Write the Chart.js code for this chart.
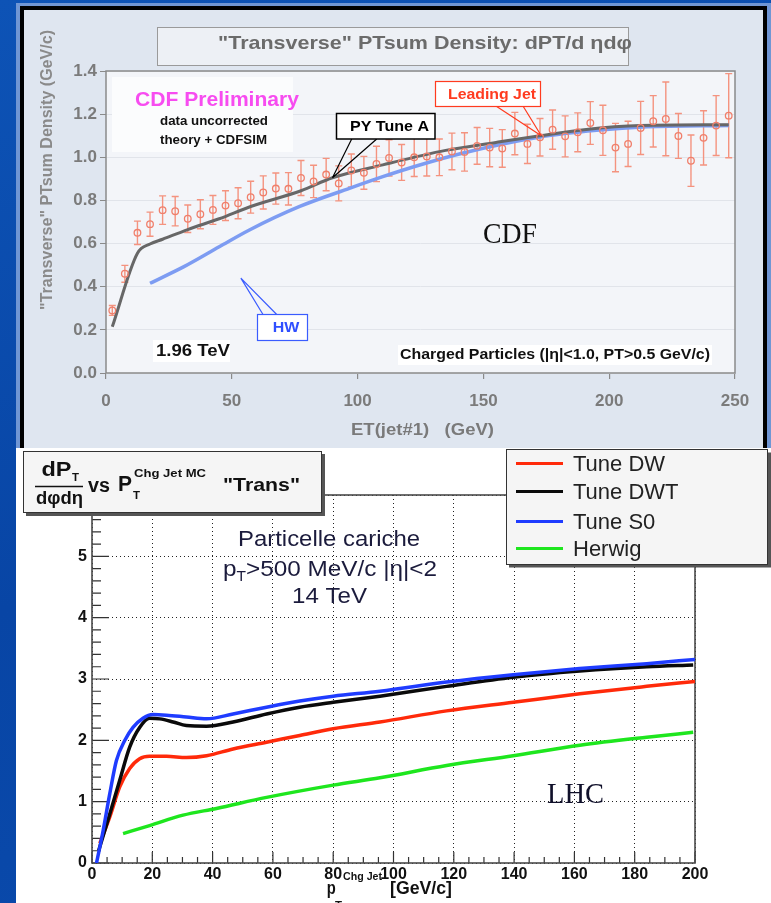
<!DOCTYPE html>
<html>
<head>
<meta charset="utf-8">
<script src="https://cdn.jsdelivr.net/npm/chart.js@4.4.1/dist/chart.umd.min.js"></script>
<style>
  html, body { margin: 0; padding: 0; }
  body {
    width: 771px; height: 903px; position: relative; overflow: hidden;
    background: linear-gradient(165deg, #0d53b6 0%, #0845a5 55%, #0a4bad 100%);
  }
  #cdfFrame { position: absolute; left: 16px; top: 3px; width: 755px; height: 445px; background: #7096d4; }
  #cdfPanel {
    position: absolute; left: 20px; top: 6px; width: 747px; height: 442px; box-sizing: border-box;
    border: 4px solid #000; border-bottom: none; background: #dfe6f0;
  }
  #lhcPanel { position: absolute; left: 16px; top: 448px; width: 755px; height: 455px; background: #fff; }
  canvas { position: absolute; left: 0; }
  #cdfChart { top: 0; }
  #lhcChart { top: 448px; }
</style>
</head>
<body>
<div id="cdfFrame"></div>
<div id="cdfPanel"></div>
<div id="lhcPanel"></div>
<canvas id="cdfChart" width="771" height="448"></canvas>
<canvas id="lhcChart" width="771" height="455"></canvas>
<script>
// ---- CDF Run II: "transverse" PTsum density vs ET(jet#1) ----
const cdfEt = [2.5, 7.5, 12.5, 17.5, 22.5, 27.5, 32.5, 37.5, 42.5, 47.5,
  52.5, 57.5, 62.5, 67.5, 72.5, 77.5, 82.5, 87.5, 92.5, 97.5,
  102.5, 107.5, 112.5, 117.5, 122.5, 127.5, 132.5, 137.5, 142.5, 147.5,
  152.5, 157.5, 162.5, 167.5, 172.5, 177.5, 182.5, 187.5, 192.5, 197.5,
  202.5, 207.5, 212.5, 217.5, 222.5, 227.5, 232.5, 237.5, 242.5, 247.5];
const cdfDensity = [0.29, 0.46, 0.65, 0.69, 0.755, 0.75, 0.715, 0.736, 0.756, 0.776,
  0.787, 0.815, 0.837, 0.855, 0.854, 0.904, 0.888, 0.92, 0.879, 0.939,
  0.928, 0.969, 0.997, 0.976, 1.0, 1.004, 1.0, 1.027, 1.025, 1.053,
  1.045, 1.041, 1.11, 1.062, 1.093, 1.128, 1.097, 1.116, 1.159, 1.125,
  1.045, 1.062, 1.136, 1.167, 1.178, 1.099, 0.984, 1.09, 1.147, 1.193];
const cdfError = [0.023, 0.039, 0.054, 0.056, 0.066, 0.068, 0.064, 0.067, 0.067, 0.069,
  0.072, 0.074, 0.077, 0.072, 0.075, 0.081, 0.075, 0.075, 0.081, 0.076,
  0.076, 0.082, 0.084, 0.083, 0.089, 0.091, 0.085, 0.085, 0.089, 0.085,
  0.089, 0.087, 0.098, 0.091, 0.087, 0.091, 0.095, 0.09, 0.099, 0.116,
  0.112, 0.105, 0.123, 0.119, 0.171, 0.104, 0.119, 0.126, 0.139, 0.195];

const pyTuneAEt = [2.5, 12.5, 17.5, 22.5, 32.5, 45, 57.5, 77.5, 90, 110, 135, 155, 172.5, 190, 212.5, 247.5];
const pyTuneADensity = [0.214, 0.555, 0.598, 0.62, 0.665, 0.715, 0.772, 0.845, 0.905, 0.965, 1.032, 1.069, 1.10, 1.128, 1.147, 1.151];

const hwCdfEt = [17.5, 31, 45, 57, 77, 97, 110, 122, 142, 172.5, 195, 215, 247.5];
const hwCdfDensity = [0.416, 0.493, 0.585, 0.663, 0.772, 0.857, 0.91, 0.955, 1.02, 1.094, 1.125, 1.141, 1.147];

// ---- LHC 14 TeV predictions: dPT/dphi deta vs pT(chg jet) ----
const lhcPtDW = [2.6, 5.9, 9.2, 12.5, 15.8, 19.1, 24.7, 31.3, 38, 46.8, 57.9, 68.9, 80, 95.5, 117.6, 139.7, 161.8, 184, 200];
const lhcDW = [0.32, 0.75, 1.24, 1.54, 1.70, 1.74, 1.74, 1.72, 1.75, 1.86, 1.97, 2.08, 2.19, 2.30, 2.48, 2.62, 2.76, 2.88, 2.96];

const lhcPtDWT = [2.2, 5.9, 9.2, 12.5, 15.8, 19.1, 22.5, 26.9, 31.3, 38, 46.8, 57.9, 68.9, 80, 95.5, 117.6, 139.7, 161.8, 184, 199.4];
const lhcDWT = [0.2, 0.8, 1.35, 1.89, 2.21, 2.36, 2.35, 2.30, 2.24, 2.23, 2.30, 2.43, 2.54, 2.62, 2.72, 2.88, 3.03, 3.13, 3.20, 3.23];

const lhcPtS0 = [1.5, 3.7, 5.9, 8.1, 10.9, 13.6, 16.9, 20.2, 24.7, 31.3, 38, 46.8, 57.9, 68.9, 80, 95.5, 117.6, 139.7, 161.8, 184, 200];
const lhcS0 = [0, 0.53, 1.13, 1.67, 2.0, 2.21, 2.36, 2.42, 2.41, 2.38, 2.35, 2.43, 2.54, 2.64, 2.72, 2.80, 2.95, 3.07, 3.17, 3.25, 3.32];

const lhcPtHerwig = [10.3, 19.1, 30.2, 41.3, 57.9, 80, 95.5, 117.6, 139.7, 161.8, 184, 199.4];
const lhcHerwig = [0.48, 0.61, 0.78, 0.89, 1.07, 1.27, 1.39, 1.59, 1.75, 1.92, 2.05, 2.13];

const lhcLabels = ['Tune DW', 'Tune DWT', 'Tune S0', 'Herwig'];
const lhcColors = ['#ff2a0a', '#0a0a0a', '#1f3cff', '#1ee61e'];

const SANS = '"Liberation Sans", Arial, Helvetica, sans-serif';
const SERIF = '"Liberation Serif", "Times New Roman", serif';

function pts(xs, ys) {
  return xs.map((x, i) => ({ x: x, y: ys[i] }));
}

// text squeezed or stretched to a given width; x = left edge, y = middle
function fitText(ctx, text, x, y, width, font, color) {
  ctx.save();
  ctx.font = font;
  ctx.fillStyle = color;
  ctx.textAlign = 'left';
  ctx.textBaseline = 'middle';
  const w = ctx.measureText(text).width;
  ctx.translate(x, y);
  ctx.scale(width / w, 1);
  ctx.fillText(text, 0, 0);
  ctx.restore();
}

// several runs (sub/superscripts) laid out on one line, then fitted to width
function runText(ctx, runs, x, y, width, color) {
  ctx.save();
  ctx.textAlign = 'left';
  ctx.textBaseline = 'alphabetic';
  let total = 0;
  runs.forEach(r => { ctx.font = r.font; r.w = ctx.measureText(r.t).width; total += r.w; });
  ctx.translate(x, y);
  ctx.scale(width / total, 1);
  ctx.fillStyle = color;
  let cx = 0;
  runs.forEach(r => { ctx.font = r.font; ctx.fillText(r.t, cx, r.dy || 0); cx += r.w; });
  ctx.restore();
}

// labelled box with two pointer strokes running to a spot on the plot
function callout(ctx, box, color, from, target) {
  ctx.save();
  ctx.strokeStyle = color;
  ctx.lineWidth = 1.2;
  ctx.beginPath();
  from.forEach(p => { ctx.moveTo(p[0], p[1]); ctx.lineTo(target.x, target.y); });
  ctx.stroke();
  ctx.fillStyle = '#fff';
  ctx.fillRect(box[0], box[1], box[2], box[3]);
  ctx.lineWidth = box[4] || 1.2;
  ctx.strokeRect(box[0], box[1], box[2], box[3]);
  ctx.restore();
}

const cdfDecor = {
  id: 'cdfDecor',
  beforeDraw(chart) {
    const { ctx, chartArea: a } = chart;
    ctx.save();
    ctx.fillStyle = '#f3f5f9';
    ctx.fillRect(a.left, a.top, a.right - a.left, a.bottom - a.top);
    // title box
    ctx.fillStyle = '#edf0f5';
    ctx.fillRect(157, 27, 471, 38);
    ctx.strokeStyle = '#9a9a9a';
    ctx.lineWidth = 1;
    ctx.strokeRect(157.5, 27.5, 471, 38);
    ctx.restore();
    fitText(ctx, '"Transverse" PTsum Density: dPT/d \u03b7d\u03c6', 218, 44, 414, 'bold 19px ' + SANS, '#6b6b6b');
    // axis titles
    ctx.save();
    ctx.translate(48, 170);
    ctx.rotate(-Math.PI / 2);
    fitText(ctx, '"Transverse" PTsum Density (GeV/c)', -140, 0, 280, 'bold 16px ' + SANS, '#8a8a8a');
    ctx.restore();
    fitText(ctx, 'ET(jet#1)   (GeV)', 351, 430, 143, 'bold 17px ' + SANS, '#7a7a7a');
  },
  beforeDatasetsDraw(chart) {
    const { ctx } = chart;
    const xs = chart.scales.x, ys = chart.scales.y;
    ctx.save();
    ctx.fillStyle = '#fbfcfd';
    ctx.fillRect(112, 77, 181, 75);
    ctx.fillStyle = '#ffffff';
    ctx.fillRect(153, 340, 77, 22);
    ctx.fillRect(398, 345, 314, 20);
    // error bars
    ctx.strokeStyle = '#f4937f';
    ctx.lineWidth = 1.4;
    ctx.beginPath();
    cdfEt.forEach((e, i) => {
      const px = xs.getPixelForValue(e);
      const lo = ys.getPixelForValue(cdfDensity[i] - cdfError[i]);
      const hi = ys.getPixelForValue(cdfDensity[i] + cdfError[i]);
      ctx.moveTo(px, lo); ctx.lineTo(px, hi);
      ctx.moveTo(px - 3.5, lo); ctx.lineTo(px + 3.5, lo);
      ctx.moveTo(px - 3.5, hi); ctx.lineTo(px + 3.5, hi);
    });
    ctx.stroke();
    ctx.restore();
  },
  afterDatasetsDraw(chart) {
    const { ctx, chartArea: a } = chart;
    const xs = chart.scales.x, ys = chart.scales.y;
    ctx.save();
    ctx.strokeStyle = '#8a8a8a';
    ctx.lineWidth = 1.5;
    ctx.strokeRect(a.left, a.top, a.right - a.left, a.bottom - a.top);
    ctx.restore();

    fitText(ctx, 'CDF Preliminary', 135, 100, 164, 'bold 20px ' + SANS, '#f74cf0');
    fitText(ctx, 'data uncorrected', 160, 122, 108, 'bold 12px ' + SANS, '#111');
    fitText(ctx, 'theory + CDFSIM', 160, 141, 107, 'bold 12px ' + SANS, '#111');
    fitText(ctx, '1.96 TeV', 156, 351, 74, 'bold 17px ' + SANS, '#111');
    fitText(ctx, 'Charged Particles (|\u03b7|<1.0, PT>0.5 GeV/c)', 400, 355, 310, 'bold 15px ' + SANS, '#111');
    fitText(ctx, 'CDF', 483, 235, 54, '30px ' + SERIF, '#111');

    const pyTip = { x: xs.getPixelForValue(90), y: ys.getPixelForValue(0.905) };
    callout(ctx, [336.5, 113.5, 98.5, 25.5, 1.5], '#000', [[351.7, 139], [376.7, 139]], pyTip);
    fitText(ctx, 'PY Tune A', 350, 126.5, 79, 'bold 15px ' + SANS, '#000');

    const ljTip = { x: xs.getPixelForValue(173), y: ys.getPixelForValue(1.10) };
    callout(ctx, [435.5, 81.5, 105, 25], '#ff3b1f', [[496.7, 106.5], [523.3, 106.5]], ljTip);
    fitText(ctx, 'Leading Jet', 448, 94.5, 88, 'bold 15px ' + SANS, '#ff3b1f');

    const hwTip = { x: xs.getPixelForValue(53.6), y: ys.getPixelForValue(0.44) };
    callout(ctx, [257.5, 314.5, 50, 26], '#3a5cff', [[263, 314.5], [276.7, 314.5]], hwTip);
    fitText(ctx, 'HW', 272.7, 327.5, 26.6, 'bold 15px ' + SANS, '#2f4fff');
  }
};

new Chart(document.getElementById('cdfChart'), {
  type: 'line',
  data: {
    datasets: [
      {
        label: 'PY Tune A', data: pts(pyTuneAEt, pyTuneADensity),
        borderColor: '#676767', borderWidth: 3, pointRadius: 0,
        cubicInterpolationMode: 'monotone', order: 2
      },
      {
        label: 'HW', data: pts(hwCdfEt, hwCdfDensity),
        borderColor: '#7d9cf2', borderWidth: 3.5, pointRadius: 0,
        cubicInterpolationMode: 'monotone', order: 3
      },
      {
        type: 'scatter', label: 'CDF data', data: pts(cdfEt, cdfDensity),
        pointRadius: 3.3, pointBorderWidth: 1.3, pointBorderColor: '#f07f6b',
        pointBackgroundColor: 'rgba(0,0,0,0)', order: 1
      }
    ]
  },
  options: {
    responsive: false,
    animation: false,
    events: [],
    layout: { padding: { left: 0, right: 36, top: 71, bottom: 0 } },
    plugins: { legend: { display: false }, tooltip: { enabled: false } },
    scales: {
      x: {
        type: 'linear', min: 0, max: 250,
        afterFit: s => { s.height = 75; },
        ticks: { stepSize: 50, padding: 12, color: '#7b7b7b', font: { family: SANS, size: 17, weight: 'bold' } },
        grid: { color: 'rgba(0,0,0,0)', tickColor: '#8a8a8a', tickLength: 6, lineWidth: 1.2 },
        border: { display: false }
      },
      y: {
        min: 0, max: 1.4,
        afterFit: s => { s.width = 106; },
        ticks: {
          stepSize: 0.2, padding: 3, color: '#7b7b7b',
          font: { family: SANS, size: 17, weight: 'bold' },
          callback: v => v.toFixed(1)
        },
        grid: { color: '#e1e4ea', tickColor: '#8a8a8a', tickLength: 6 },
        border: { display: false }
      }
    }
  },
  plugins: [cdfDecor]
});

const lhcDecor = {
  id: 'lhcDecor',
  beforeDatasetsDraw(chart) {
    const { ctx, chartArea: a } = chart;
    const xs = chart.scales.x, ys = chart.scales.y;
    ctx.save();
    ctx.strokeStyle = '#333';
    ctx.lineWidth = 1.2;
    ctx.beginPath();
    for (let k = 0; k <= 30; k++) {
      const py = ys.getPixelForValue(k * 0.2);
      const len = k % 5 === 0 ? 17 : 9;
      ctx.moveTo(a.left, py); ctx.lineTo(a.left + len, py);
    }
    for (let k = 0; k <= 40; k++) {
      const px = xs.getPixelForValue(k * 5);
      const len = k % 4 === 0 ? 11 : 6;
      ctx.moveTo(px, a.bottom); ctx.lineTo(px, a.bottom - len);
    }
    ctx.stroke();
    ctx.strokeStyle = '#4a4a4a';
    ctx.lineWidth = 1.6;
    ctx.strokeRect(a.left, a.top, a.right - a.left, a.bottom - a.top);
    ctx.restore();
  },
  afterDatasetsDraw(chart) {
    const { ctx } = chart;
    const ink = '#1b1b3c';
    fitText(ctx, 'Particelle cariche', 238, 92, 182, '22px ' + SANS, ink);
    runText(ctx, [
      { t: 'p', font: '22px ' + SANS },
      { t: 'T', font: '14px ' + SANS, dy: 5 },
      { t: '>500 MeV/c |\u03b7|<2', font: '22px ' + SANS }
    ], 223, 128, 214, ink);
    fitText(ctx, '14 TeV', 292, 149, 75, '22px ' + SANS, ink);
    fitText(ctx, 'LHC', 547, 347, 57, '30px ' + SERIF, '#10102a');

    // x axis title
    runText(ctx, [{ t: 'p', font: 'bold 19px ' + SANS }], 326.7, 446, 9, '#111');
    runText(ctx, [{ t: 'Chg Jet', font: 'bold 11px ' + SANS }], 343, 432, 39, '#111');
    runText(ctx, [{ t: 'T', font: 'bold 11px ' + SANS }], 335, 461, 7, '#111');
    runText(ctx, [{ t: '[GeV/c]', font: 'bold 18px ' + SANS }], 390, 446, 62, '#111');
  },
  afterDraw(chart) {
    const { ctx } = chart;
    ctx.save();
    // title box
    ctx.fillStyle = '#555';
    ctx.fillRect(26, 6, 299, 62);
    ctx.fillStyle = '#f5f5f5';
    ctx.fillRect(23, 3, 299, 62);
    ctx.strokeStyle = '#333';
    ctx.lineWidth = 1;
    ctx.strokeRect(23.5, 3.5, 298, 61);
    ctx.strokeStyle = '#111';
    ctx.lineWidth = 1.5;
    ctx.beginPath(); ctx.moveTo(35, 38.5); ctx.lineTo(83, 38.5); ctx.stroke();
    ctx.restore();
    fitText(ctx, 'dP', 41.5, 22, 30, 'bold 20px ' + SANS, '#111');
    fitText(ctx, 'T', 72, 30, 7, 'bold 11px ' + SANS, '#111');
    fitText(ctx, 'd\u03c6d\u03b7', 36, 51, 47, 'bold 19px ' + SANS, '#111');
    fitText(ctx, 'vs', 88, 38, 22, 'bold 20px ' + SANS, '#111');
    fitText(ctx, 'P', 118, 37, 14, 'bold 22px ' + SANS, '#111');
    fitText(ctx, 'T', 133, 48, 7, 'bold 11px ' + SANS, '#111');
    fitText(ctx, 'Chg Jet MC', 134, 26, 72, 'bold 10px ' + SANS, '#111');
    fitText(ctx, '"Trans"', 223, 38, 77, 'bold 19px ' + SANS, '#111');

    // legend
    ctx.save();
    ctx.fillStyle = '#555';
    ctx.fillRect(509, 4.5, 262, 115);
    ctx.fillStyle = '#f5f5f5';
    ctx.fillRect(506, 1.5, 262, 115);
    ctx.strokeStyle = '#333';
    ctx.lineWidth = 1;
    ctx.strokeRect(506.5, 1.5, 261, 115);
    const rows = [17, 45, 75, 102];
    chart.data.datasets.forEach((ds, i) => {
      ctx.strokeStyle = ds.borderColor;
      ctx.lineWidth = 3;
      ctx.beginPath(); ctx.moveTo(516, rows[i] - 1.5); ctx.lineTo(563, rows[i] - 1.5); ctx.stroke();
      ctx.fillStyle = '#222';
      ctx.font = '22px ' + SANS;
      ctx.textBaseline = 'middle';
      ctx.fillText(ds.label, 573, rows[i]);
    });
    ctx.restore();
  }
};

const lhcSeries = [
  pts(lhcPtDW, lhcDW), pts(lhcPtDWT, lhcDWT), pts(lhcPtS0, lhcS0), pts(lhcPtHerwig, lhcHerwig)
];

new Chart(document.getElementById('lhcChart'), {
  type: 'line',
  data: {
    datasets: lhcSeries.map((d, i) => ({
      label: lhcLabels[i], data: d,
      borderColor: lhcColors[i], borderWidth: 3.5, pointRadius: 0,
      cubicInterpolationMode: 'monotone', order: 4 - i
    }))
  },
  options: {
    responsive: false,
    animation: false,
    events: [],
    layout: { padding: { left: 0, right: 76, top: 47, bottom: 0 } },
    plugins: { legend: { display: false }, tooltip: { enabled: false } },
    scales: {
      x: {
        type: 'linear', min: 0, max: 200,
        afterFit: s => { s.height = 40; },
        ticks: { stepSize: 20, padding: 2, color: '#111', font: { family: SANS, size: 16, weight: 'bold' } },
        grid: { color: '#222', lineWidth: 1, drawTicks: false },
        border: { display: false, dash: [1, 3] }
      },
      y: {
        min: 0, max: 6,
        afterFit: s => { s.width = 92; },
        ticks: { stepSize: 1, padding: 5, color: '#111', font: { family: SANS, size: 16, weight: 'bold' } },
        grid: { color: '#222', lineWidth: 1, drawTicks: false },
        border: { display: false, dash: [1, 3] }
      }
    }
  },
  plugins: [lhcDecor]
});
</script>
</body>
</html>
